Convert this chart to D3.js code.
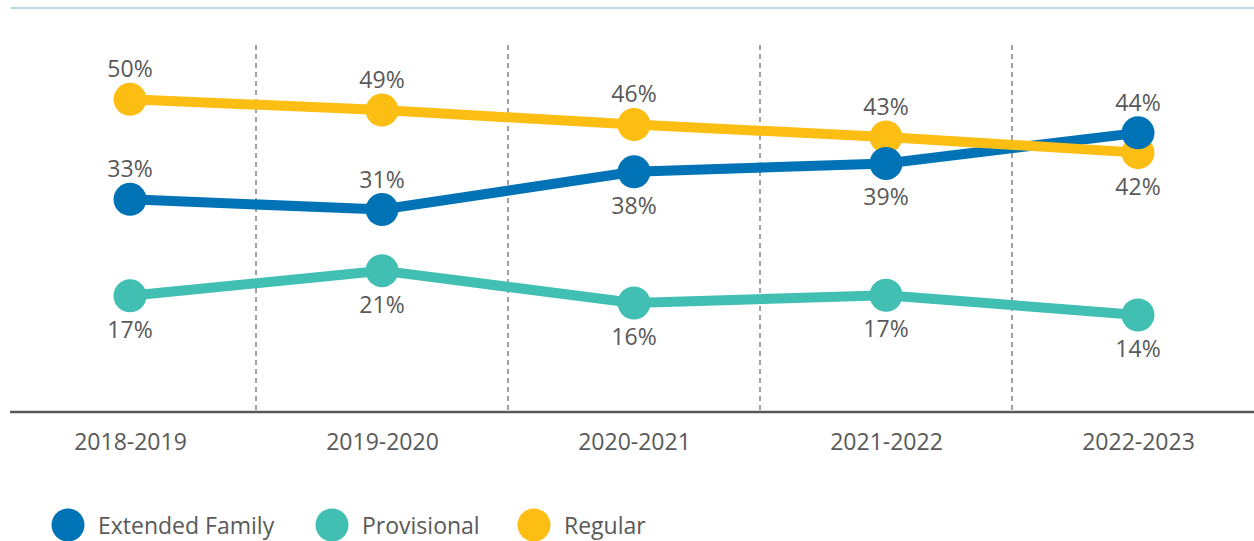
<!DOCTYPE html>
<html>
<head>
<meta charset="utf-8">
<script src="https://cdn.jsdelivr.net/npm/d3@7"></script>
<style>
  body { margin: 0; background: #fff; }
  svg { display: block; font-family: "Open Sans", sans-serif; }
</style>
</head>
<body>
<svg width="1254" height="541"></svg>
<script>
"use strict";

// Data (values read from point positions; labels as printed).

var years = ["2018-2019", "2019-2020", "2020-2021", "2021-2022", "2022-2023"];
var seriesNames = ["Extended Family", "Provisional", "Regular"];
var extendedFamily = [33.3, 31.6, 37.9, 39.3, 44.4];
var provisional = [17.2, 21.4, 16.0, 17.3, 14.0];
var regular = [50.0, 48.2, 45.8, 43.7, 41.1];
var extendedLabels = ["33%", "31%", "38%", "39%", "44%"];
var provisionalLabels = ["17%", "21%", "16%", "17%", "14%"];
var regularLabels = ["50%", "49%", "46%", "43%", "42%"];
// Where each value label sits relative to its point.
var extendedLabelPos = ["above", "above", "below", "below", "above"];
var provisionalLabelPos = ["below", "below", "below", "below", "below"];
var regularLabelPos = ["above", "above", "above", "above", "below"];

// Styles.

var svg = d3.select("svg");
var width = +svg.attr("width");
var height = +svg.attr("height");

var TextColor = "#595959";
var Colors = ["#0073b6", "#41bfb2", "#fdbe13"];
var LineWidth = 10;
var MarkerRadius = 16.5;
var FontSize = "23px";

var series = [
    {name: seriesNames[0], values: extendedFamily, labels: extendedLabels, pos: extendedLabelPos, color: Colors[0]},
    {name: seriesNames[1], values: provisional, labels: provisionalLabels, pos: provisionalLabelPos, color: Colors[1]},
    {name: seriesNames[2], values: regular, labels: regularLabels, pos: regularLabelPos, color: Colors[2]}
];

// Scales.

var x = d3.scalePoint().domain(years).range([130, 1138]);
var y = d3.scaleLinear().domain([14, 50]).range([315, 99.3]);
var AxisY = 412;

// Top rule.
svg.append("line")
    .attr("x1", 11).attr("x2", width)
    .attr("y1", 8).attr("y2", 8)
    .style("stroke", "#b6dbe5")
    .style("stroke-width", 2);

// Dashed separators between categories.
var mids = d3.pairs(years).map(function(p){ return (x(p[0]) + x(p[1]))/2; });
svg.selectAll("line.sep")
    .data(mids)
    .enter()
    .append("line")
        .attr("class", "sep")
        .attr("x1", function(d){ return d; })
        .attr("x2", function(d){ return d; })
        .attr("y1", 45)
        .attr("y2", AxisY)
        .style("stroke", "#444")
        .style("stroke-width", 1)
        .style("stroke-dasharray", "5,4");

// X axis.
var xAxis = svg.append("g")
    .attr("transform", "translate(0," + AxisY + ")")
    .call(d3.axisBottom(x).tickSize(0).tickPadding(22));
xAxis.select(".domain").remove();
xAxis.append("line")
    .attr("x1", 10).attr("x2", width)
    .style("stroke", TextColor)
    .style("stroke-width", 2.5);
xAxis.selectAll("text")
    .attr("dy", "0.71em")
    .style("font-family", "'Open Sans', sans-serif")
    .style("font-size", FontSize)
    .style("fill", TextColor);

// Lines first, so markers are on top.
var line = d3.line()
    .x(function(d, i){ return x(years[i]); })
    .y(function(d){ return y(d); });

svg.selectAll("path.series")
    .data(series)
    .enter()
    .append("path")
        .attr("class", "series")
        .attr("d", function(d){ return line(d.values); })
        .style("fill", "none")
        .style("stroke", function(d){ return d.color; })
        .style("stroke-width", LineWidth);

// Markers (reversed, so blue sits over yellow).
var markerGroups = svg.selectAll("g.markers")
    .data(series.slice().reverse())
    .enter()
    .append("g")
        .attr("class", "markers");

markerGroups.selectAll("circle")
    .data(function(d){ return d.values.map(function(v, i){ return {v: v, i: i, color: d.color}; }); })
    .enter()
    .append("circle")
        .attr("cx", function(d){ return x(years[d.i]); })
        .attr("cy", function(d){ return y(d.v); })
        .attr("r", MarkerRadius)
        .style("fill", function(d){ return d.color; });

// Value labels.
series.forEach(function(s){
    svg.selectAll(null)
        .data(s.values)
        .enter()
        .append("text")
            .attr("x", function(d, i){ return x(years[i]); })
            .attr("y", function(d, i){ return s.pos[i] === "above" ? y(d) - 22 : y(d) + 42; })
            .attr("text-anchor", "middle")
            .style("font-size", FontSize)
            .style("fill", TextColor)
            .text(function(d, i){ return s.labels[i]; });
});

// Legend.
var legendX = [68, 332, 534];
var legend = svg.selectAll("g.legend")
    .data(series)
    .enter()
    .append("g")
        .attr("class", "legend")
        .attr("transform", function(d, i){ return "translate(" + legendX[i] + ",525)"; });

legend.append("circle")
    .attr("r", 16.5)
    .style("fill", function(d){ return d.color; });

legend.append("text")
    .attr("x", 30)
    .attr("y", 9)
    .style("font-size", FontSize)
    .style("fill", TextColor)
    .text(function(d){ return d.name; });
</script>
</body>
</html>
